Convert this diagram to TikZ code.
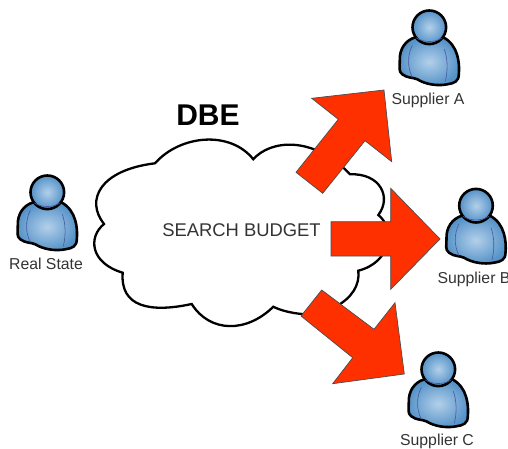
\documentclass[tikz,border=0pt]{standalone}
\usepackage{fontspec}
\setmainfont{Liberation Sans}
\definecolor{personlight}{HTML}{B3D0EA}
\definecolor{persondark}{HTML}{5592C8}
\definecolor{personline}{HTML}{46599E}
\definecolor{labelgray}{HTML}{333333}
\definecolor{bigred}{HTML}{FF3000}
\tikzset{
  bigarrow/.style={fill=bigred,draw=black!70,line width=.7pt,line join=miter},
  cloudline/.style={draw=black,line width=2.3pt,fill=white,line join=miter},
  peoplelabel/.style={inner sep=0pt,text=labelgray,font=\fontsize{15.8}{18}\selectfont},
  person/.pic={
    \draw[black,line width=2.6pt,inner color=personlight,outer color=persondark]
      (-14,10) .. controls (-24,13) and (-30,22) .. (-29.5,33)
      .. controls (-29.5,40) and (-31,44) .. (-27,47)
      .. controls (-22,51) and (-16,50) .. (-12,52)
      .. controls (-4,57) and (8,59) .. (18,57)
      .. controls (25,56) and (29.5,54) .. (29.5,47)
      .. controls (30.5,36) and (29,18) .. (14,10) -- cycle;
    \draw[personline,line width=.6pt] (-17,18) .. controls (-22,28) and (-22,40) .. (-17,50);
    \draw[personline,line width=.6pt] (15,22) .. controls (18,30) and (19,42) .. (16,54);
    \draw[black,line width=2.6pt,inner color=personlight,outer color=persondark]
      (0,0) circle (16.8);
    \draw[personline,line width=.6pt] (-13,10.5) .. controls (-6,15.5) and (6,15.5) .. (13,10.5);
  }
}
\begin{document}
\begin{tikzpicture}[x=1pt,y=-1pt]
  \useasboundingbox (0,0) rectangle (508,449);
  % cloud
  \path[cloudline] (155,163.3) .. controls (180,135) and (230,130) .. (253.3,159.3)
    .. controls (270,140) and (313,135) .. (350,174.3)
    .. controls (380,173) and (392,197) .. (378.3,215)
    .. controls (395,228) and (392,262) .. (358.3,270.7)
    .. controls (360,285) and (352,298) .. (335,307)
    .. controls (320,320) and (285,313) .. (273.3,306.7)
    .. controls (246.7,333) and (210,333) .. (191.7,304)
    .. controls (150,313) and (120,307) .. (122.7,272.7)
    .. controls (90,263) and (88,237) .. (104,224)
    .. controls (85,200) and (100,170) .. (155,163.3) -- cycle;
  \node[inner sep=0pt,text=labelgray,font=\fontsize{18.4}{22}\selectfont] (budget) at (241.5,230) {SEARCH BUDGET};
  \node[inner sep=0pt,font=\fontsize{30}{34}\selectfont\bfseries] (dbe) at (208,115) {DBE};
  % arrows
  \path[bigarrow] (384,90) -- (311.7,98.3) -- (338.3,119.3) -- (296,172.3) -- (322.7,193.3)
    -- (365,140.7) -- (391.7,161.7) -- cycle;
  \path[bigarrow] (440,239) -- (390.7,188.3) -- (390.7,221.7) -- (331,221.7) -- (331,256)
    -- (390.7,256) -- (390.7,289.3) -- cycle;
  \path[bigarrow] (404.3,374) -- (395,302.7) -- (374,329.3) -- (321.7,290) -- (301,316)
    -- (352.7,357.7) -- (332.7,383.7) -- cycle;
  % people
  \pic at (47.3,192.3) {person};
  \pic at (429.3,27.3) {person};
  \pic at (476,205.7) {person};
  \pic at (438.3,369.3) {person};
  \node[peoplelabel] (realstate) at (46,264) {Real State};
  \node[peoplelabel] (suppliera) at (428,100) {Supplier A};
  \node[peoplelabel] (supplierb) at (474,279) {Supplier B};
  \node[peoplelabel] (supplierc) at (437,441.5) {Supplier C};
\end{tikzpicture}
\end{document}
